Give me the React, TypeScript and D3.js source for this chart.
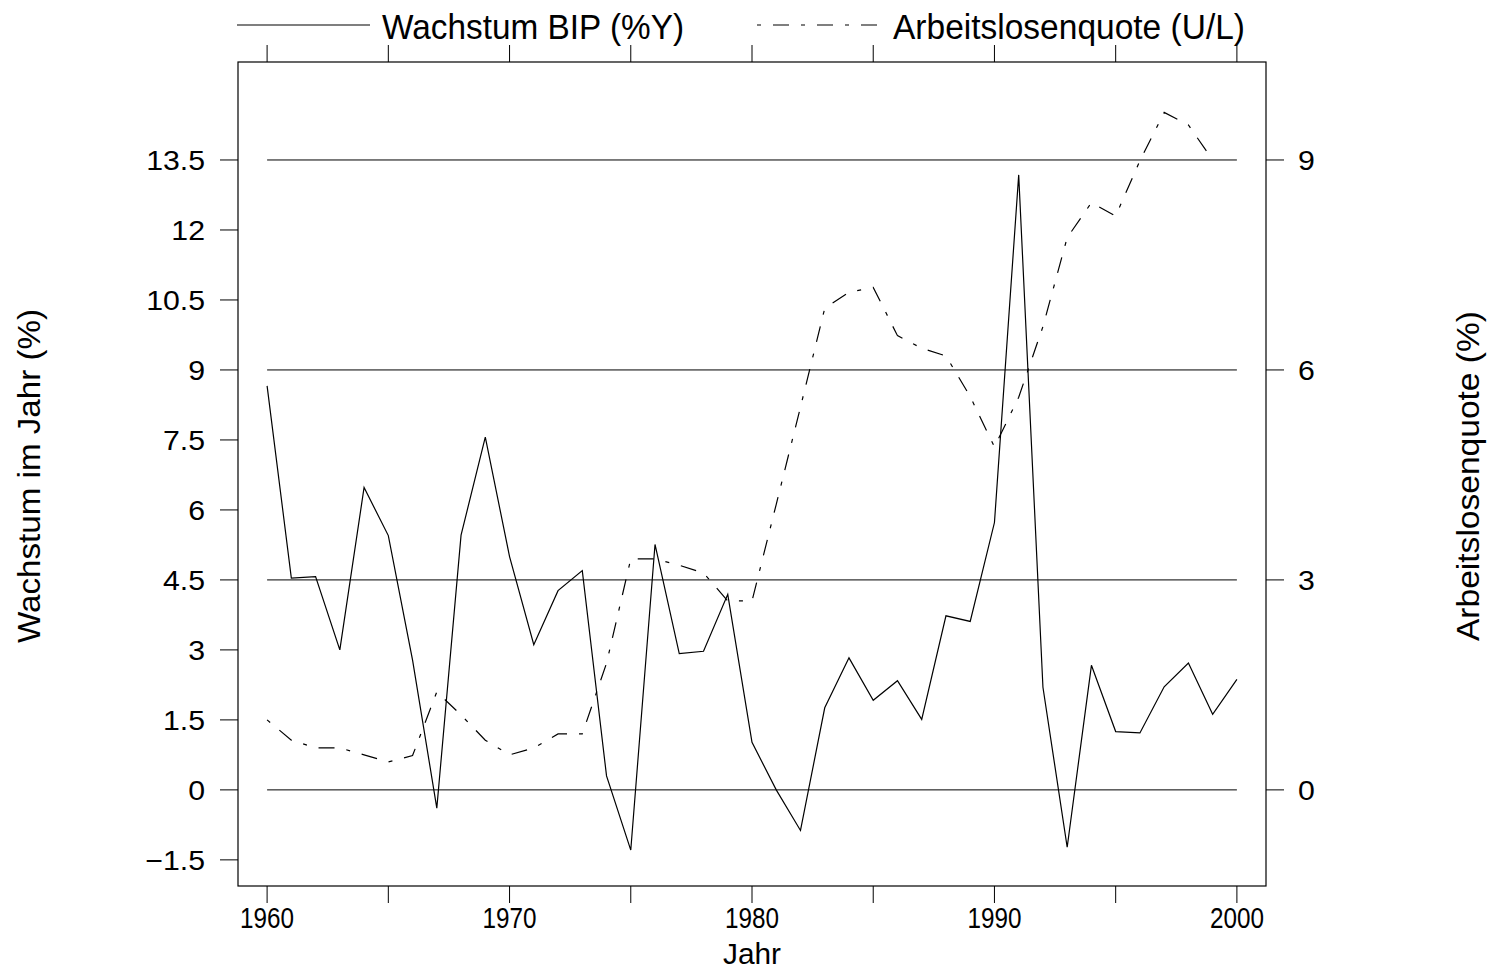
import React from "react";
import * as d3 from "d3";

const years: number[] = d3.range(1960, 2001);

// Wachstum BIP (%Y) — left axis
const gdpGrowth: number[] = [
  8.66, 4.54, 4.57, 3.0, 6.48, 5.45, 2.78, -0.39, 5.46, 7.56,
  5.0, 3.11, 4.27, 4.7, 0.3, -1.29, 5.26, 2.92, 2.97, 4.19,
  1.02, 0.0, -0.87, 1.76, 2.83, 1.92, 2.34, 1.51, 3.73, 3.61,
  5.73, 13.18, 2.2, -1.23, 2.67, 1.25, 1.22, 2.21, 2.72, 1.62,
  2.37,
];

// Arbeitslosenquote (U/L) — right axis (no value for 2000)
const unemployment: (number | null)[] = [
  1.0, 0.71, 0.6, 0.6, 0.5, 0.4, 0.49, 1.4, 1.07, 0.71,
  0.5, 0.6, 0.8, 0.8, 1.81, 3.3, 3.3, 3.21, 3.1, 2.7,
  2.7, 4.08, 5.47, 6.88, 7.11, 7.18, 6.49, 6.31, 6.2, 5.62,
  4.9, 5.61, 6.62, 7.89, 8.39, 8.2, 8.99, 9.68, 9.5, 9.0,
  null,
];

const leftTicks: number[] = [-1.5, 0, 1.5, 3, 4.5, 6, 7.5, 9, 10.5, 12, 13.5];
const rightTicks: number[] = [0, 3, 6, 9];
const refLines: number[] = [0, 4.5, 9, 13.5];
const minorYearTicks: number[] = [1960, 1965, 1970, 1975, 1980, 1985, 1990, 1995, 2000];
const labelYears: number[] = [1960, 1970, 1980, 1990, 2000];

const FONT = "'Liberation Sans', Arial, Helvetica, sans-serif";
const SY = 1.08; // horizontal stretch of the y tick labels

export default function App() {
  const L = 238, R = 1266, T = 62, B = 886;
  const x = d3.scaleLinear().domain([1958.8, 2001.2]).range([L, R]);
  const yL = d3.scaleLinear().domain([-2.06, 15.6]).range([B, T]);
  const yR = d3.scaleLinear().domain([-2.06 / 1.5, 15.6 / 1.5]).range([B, T]);

  const gdpLine = d3
    .line<number>()
    .x((_, i) => x(years[i]))
    .y((d) => yL(d))(gdpGrowth) as string;

  const unLine = d3
    .line<number | null>()
    .defined((d) => d !== null)
    .x((_, i) => x(years[i]))
    .y((d) => yR(d as number))(unemployment) as string;

  const fmt = (v: number) => (v < 0 ? "\u2212" + Math.abs(v) : String(v));
  const dash = "4 12 16 12";

  return (
    <svg width={1492} height={970} style={{ display: "block", position: "absolute", left: 0, top: 0, background: "#fff" }} fontFamily={FONT}>
      {/* legend */}
      <line x1={237} x2={370} y1={25} y2={25} stroke="#000" strokeWidth={1.2} />
      <text x={382} y={39} fontSize={35} fill="#000" textLength={302} lengthAdjust="spacingAndGlyphs">Wachstum BIP (%Y)</text>
      <line x1={757} x2={885} y1={25} y2={25} stroke="#000" strokeWidth={1.2} strokeDasharray={dash} />
      <text x={893} y={39} fontSize={35} fill="#000" textLength={352} lengthAdjust="spacingAndGlyphs">Arbeitslosenquote (U/L)</text>

      {/* reference lines */}
      {refLines.map((v) => (
        <line key={"r" + v} x1={x(1960)} x2={x(2000)} y1={yL(v)} y2={yL(v)} stroke="#000" strokeWidth={1} />
      ))}

      {/* frame */}
      <rect x={L} y={T} width={R - L} height={B - T} fill="none" stroke="#000" strokeWidth={1.2} />

      {/* top & bottom ticks */}
      {minorYearTicks.map((yr) => (
        <g key={"t" + yr}>
          <line x1={x(yr)} x2={x(yr)} y1={T} y2={T - 17} stroke="#000" strokeWidth={1} />
          <line x1={x(yr)} x2={x(yr)} y1={B} y2={B + 17} stroke="#000" strokeWidth={1} />
        </g>
      ))}
      {labelYears.map((yr) => (
        <text key={"xl" + yr} x={x(yr) - 27} y={928} fontSize={29} fill="#000" textLength={54} lengthAdjust="spacingAndGlyphs">{yr}</text>
      ))}
      <text x={752} y={964} fontSize={30} textAnchor="middle" fill="#000" textLength={58} lengthAdjust="spacingAndGlyphs">Jahr</text>

      {/* left ticks */}
      {leftTicks.map((v) => (
        <g key={"l" + v}>
          <line x1={L} x2={L - 18} y1={yL(v)} y2={yL(v)} stroke="#000" strokeWidth={1} />
          <text transform={`translate(205,${yL(v) + 10}) scale(${SY},1)`} fontSize={28} textAnchor="end" fill="#000">{fmt(v)}</text>
        </g>
      ))}
      {/* right ticks */}
      {rightTicks.map((v) => (
        <g key={"rt" + v}>
          <line x1={R} x2={R + 18} y1={yR(v)} y2={yR(v)} stroke="#000" strokeWidth={1} />
          <text transform={`translate(1298,${yR(v) + 10}) scale(${SY},1)`} fontSize={28} textAnchor="start" fill="#000">{v}</text>
        </g>
      ))}

      {/* axis titles */}
      <text transform={`translate(40,476) rotate(-90)`} fontSize={32} textAnchor="middle" fill="#000" textLength={334} lengthAdjust="spacingAndGlyphs">Wachstum im Jahr (%)</text>
      <text transform={`translate(1479,476) rotate(-90)`} fontSize={32} textAnchor="middle" fill="#000" textLength={330} lengthAdjust="spacingAndGlyphs">Arbeitslosenquote (%)</text>

      {/* series */}
      <path d={unLine} fill="none" stroke="#000" strokeWidth={1.2} strokeDasharray={dash} />
      <path d={gdpLine} fill="none" stroke="#000" strokeWidth={1.2} />
    </svg>
  );
}
